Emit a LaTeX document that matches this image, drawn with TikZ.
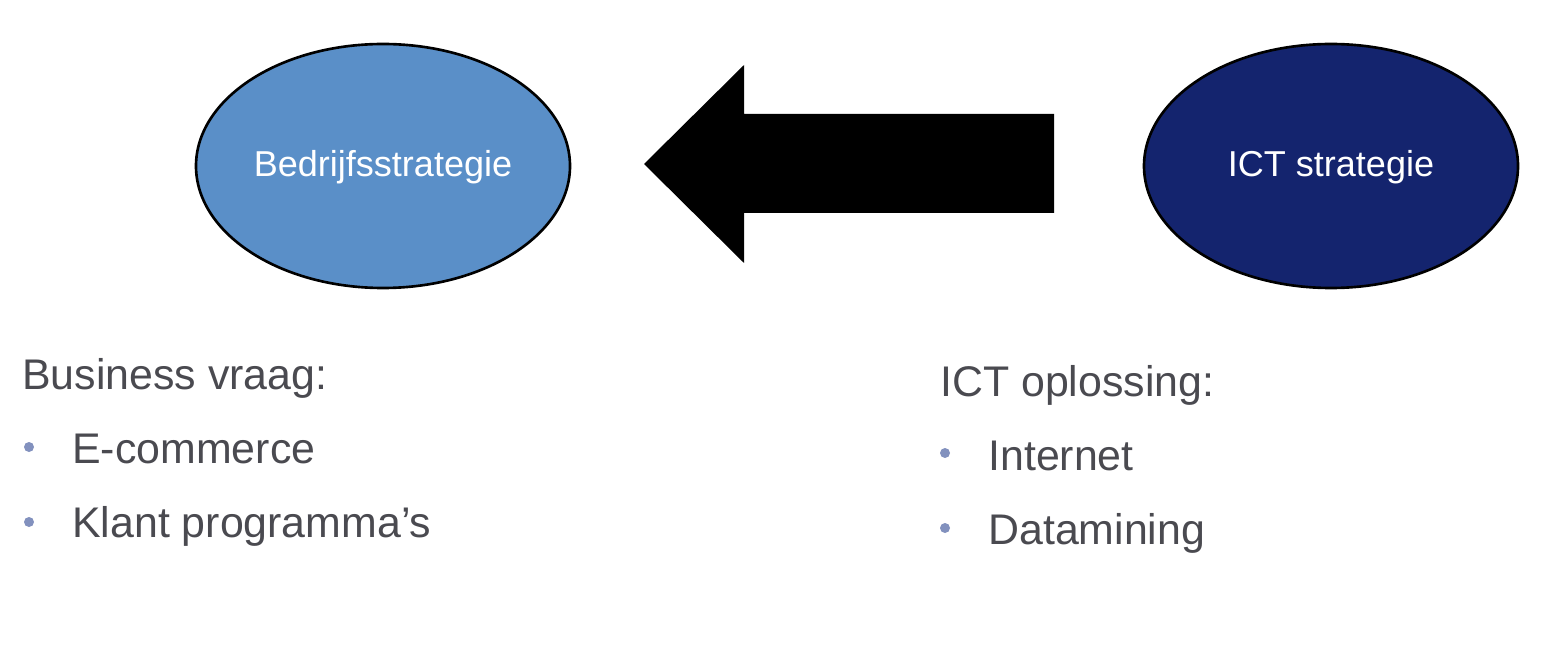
\documentclass[tikz,border=0pt]{standalone}
\usepackage{fontspec}
\setmainfont{Liberation Sans}
\usetikzlibrary{shapes.geometric}
\definecolor{bizblue}{RGB}{90,143,200}
\definecolor{ictblue}{RGB}{20,36,110}
\definecolor{txtgrey}{RGB}{74,74,80}
\definecolor{bulletblue}{RGB}{130,145,190}
\newlength{\px}
\setlength{\px}{0.02cm}
\tikzset{
  strat/.style={ellipse, draw=black, line width=1.5pt, minimum width=374\px, minimum height=244\px, inner sep=0pt, text=white, font=\fontsize{20.5pt}{24pt}\selectfont},
  listtxt/.style={anchor=base west, inner sep=0pt, text=txtgrey, font=\fontsize{24.4pt}{28pt}\selectfont},
  bulletdot/.style={circle, fill=bulletblue, minimum size=10\px, inner sep=0pt},
  bigarrow/.style={fill=black}
}
\begin{document}
\begin{tikzpicture}[x=0.02cm,y=-0.02cm]
\useasboundingbox (0,0) rectangle (1564,648);
\node[strat, fill=bizblue] (biz) at (383,166) {\raisebox{-11\px}[0pt][0pt]{Bedrijfsstrategie}};
\node[strat, fill=ictblue] (ict) at (1331,166) {\raisebox{-11\px}[0pt][0pt]{ICT strategie}};
% block arrow
\coordinate (tip) at (644,164);
\coordinate (tail) at (1054,164);
\fill[bigarrow] (tip) -- (744,65) -- (744,114) -- (tail |- 0,114) -- (tail |- 0,213) -- (744,213) -- (744,263) -- cycle;
% left list
\node[listtxt] (bq) at (22,389) {Business vraag:};
\node[bulletdot] (b1) at (29,447) {};
\node[listtxt] (ec) at (72,463) {E-commerce};
\node[bulletdot] (b2) at (29,522) {};
\node[listtxt] (kp) at (72,537) {Klant programma’s};
% right list
\node[listtxt] (io) at (940,396) {ICT oplossing:};
\node[bulletdot] (b3) at (945,453) {};
\node[listtxt] (in) at (988,470) {Internet};
\node[bulletdot] (b4) at (945,528) {};
\node[listtxt] (dm) at (988,544) {Datamining};
\end{tikzpicture}
\end{document}
